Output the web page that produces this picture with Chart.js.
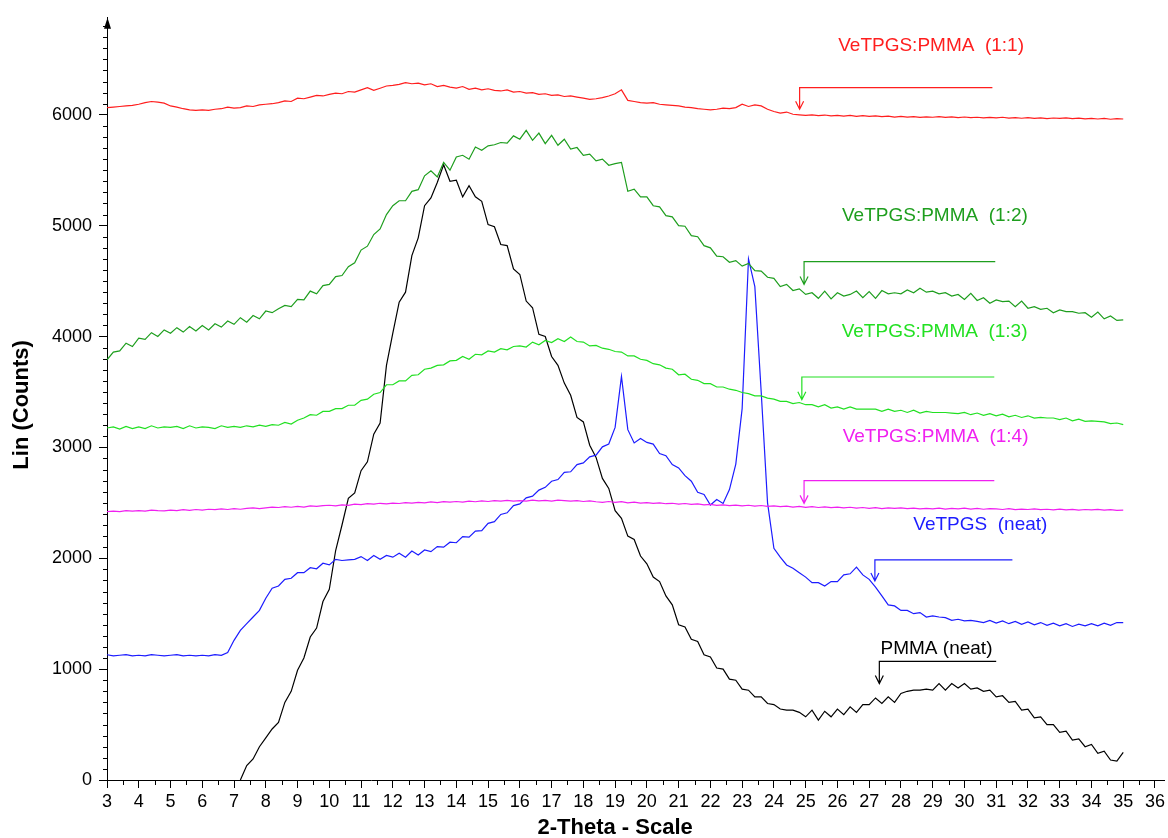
<!DOCTYPE html>
<html>
<head>
<meta charset="utf-8">
<title>XRD patterns</title>
<script src="https://cdn.jsdelivr.net/npm/chart.js@4.4.1/dist/chart.umd.min.js"></script>
<style>
  html, body { margin: 0; padding: 0; background: #fff; }
  #xrd { display: block; }
</style>
</head>
<body>
<canvas id="xrd" width="1168" height="838"></canvas>
<script>
const FONT = "'Liberation Sans', Arial, Helvetica, sans-serif";

// scan grid: 3 to 35 deg, 0.2 deg step
const scanStart = 3;
const scanStep = 0.2;

const xTicks = [3, 4, 5, 6, 7, 8, 9, 10, 11, 12, 13, 14, 15, 16, 17, 18, 19, 20,
  21, 22, 23, 24, 25, 26, 27, 28, 29, 30, 31, 32, 33, 34, 35, 36];
const yTicks = [0, 1000, 2000, 3000, 4000, 5000, 6000];

const ratio11 = [
  6065, 6070, 6075, 6080, 6085, 6095, 6110, 6120, 6115, 6105,
  6080, 6070, 6055, 6045, 6040, 6045, 6040, 6050, 6055, 6070,
  6060, 6065, 6080, 6075, 6090, 6095, 6100, 6110, 6125, 6120,
  6150, 6145, 6160, 6175, 6170, 6185, 6195, 6190, 6210, 6205,
  6225, 6245, 6220, 6240, 6260, 6265, 6275, 6290, 6280, 6285,
  6270, 6280, 6255, 6265, 6250, 6240, 6255, 6230, 6240, 6225,
  6235, 6220, 6215, 6225, 6205, 6210, 6195, 6200, 6185, 6190,
  6175, 6180, 6165, 6170, 6160, 6150, 6140, 6145, 6155, 6170,
  6190, 6225, 6130, 6120, 6110, 6105, 6110, 6095, 6090, 6085,
  6080, 6070, 6065, 6055, 6050, 6045, 6050, 6060, 6055, 6065,
  6095, 6075, 6090, 6080, 6050, 6030, 6015, 6025, 6005, 6000,
  5995, 6000, 5992, 5998, 5990, 5995, 5988, 5994, 5986, 5992,
  5985, 5990, 5983, 5988, 5980, 5986, 5980, 5984, 5977, 5982,
  5978, 5984, 5976, 5981, 5975, 5980, 5974, 5978, 5972, 5977,
  5973, 5978, 5970, 5975, 5969, 5974, 5968, 5973, 5966, 5971,
  5967, 5972, 5965, 5970, 5963, 5968, 5962, 5967, 5960, 5966,
  5962
];

const ratio12 = [
  3790, 3860, 3870, 3940, 3910, 3985, 3975, 4035, 4000, 4060,
  4030, 4080, 4040, 4090, 4050, 4100, 4060, 4115, 4085, 4140,
  4110, 4170, 4130, 4190, 4160, 4230, 4215, 4250, 4280, 4270,
  4335, 4330, 4410, 4385, 4460, 4470, 4540, 4550, 4630, 4665,
  4780, 4815, 4920, 4970, 5100, 5180, 5225, 5225, 5310, 5325,
  5450, 5495, 5440, 5570, 5500, 5620, 5635, 5600, 5710, 5680,
  5720, 5730, 5750, 5745, 5810, 5780, 5860, 5770, 5835, 5740,
  5815, 5725, 5780, 5690, 5705, 5635, 5645, 5585, 5600, 5545,
  5560, 5570, 5310, 5330, 5260, 5260, 5180, 5170, 5090, 5080,
  5000, 4995, 4910, 4900, 4820, 4800, 4725, 4720, 4670, 4685,
  4635, 4660, 4595, 4590, 4535, 4525, 4450, 4470, 4415, 4430,
  4380, 4395, 4345, 4410, 4340, 4395, 4365, 4380, 4410, 4350,
  4405, 4345, 4415, 4385, 4395, 4385, 4420, 4395, 4435, 4400,
  4410, 4385, 4395, 4365, 4380, 4335, 4390, 4325, 4350, 4300,
  4330, 4315, 4320, 4270, 4320, 4255, 4270, 4245, 4255, 4215,
  4240, 4225, 4225, 4210, 4215, 4175, 4220, 4160, 4185, 4145,
  4150
];

const ratio13 = [
  3175, 3185, 3165, 3190, 3170, 3185, 3170, 3195, 3175, 3185,
  3180, 3190, 3170, 3195, 3175, 3185, 3180, 3170, 3195, 3180,
  3190, 3180, 3195, 3185, 3200, 3190, 3205, 3200, 3225, 3210,
  3245, 3265, 3295, 3290, 3325, 3325, 3350, 3350, 3380, 3380,
  3425, 3435, 3480, 3495, 3565, 3565, 3600, 3600, 3650, 3655,
  3705, 3715, 3740, 3745, 3780, 3785, 3820, 3795, 3840, 3835,
  3870, 3860, 3890, 3880, 3910, 3915, 3905, 3950, 3925, 3965,
  3945, 3980, 3955, 3995, 3955, 3950, 3915, 3920, 3895, 3885,
  3865, 3860, 3825, 3825, 3795, 3785, 3755, 3745, 3715, 3705,
  3655, 3660, 3615, 3605, 3575, 3575, 3545, 3545, 3525, 3515,
  3495, 3485, 3465, 3465, 3445, 3435, 3415, 3415, 3395, 3405,
  3385, 3385, 3365, 3385, 3355, 3365, 3345, 3365, 3345, 3345,
  3345, 3345, 3325, 3345, 3325, 3335, 3315, 3335, 3310, 3325,
  3315, 3315, 3315, 3310, 3305, 3315, 3295, 3310, 3290, 3305,
  3285, 3300, 3275, 3290, 3270, 3285, 3265, 3270, 3265, 3265,
  3250, 3265, 3240, 3255, 3235, 3240, 3235, 3230, 3215, 3220,
  3205
];

const ratio14 = [
  2420, 2425, 2420, 2430, 2425, 2430, 2425, 2435, 2430, 2428,
  2435, 2430, 2438, 2432, 2440, 2435, 2442, 2438, 2445, 2440,
  2448, 2442, 2450, 2455, 2448, 2455, 2462, 2458, 2465, 2460,
  2468, 2462, 2472, 2468, 2475, 2478, 2472, 2482, 2478, 2488,
  2484, 2492, 2488, 2496, 2490, 2498, 2494, 2502, 2498, 2505,
  2500, 2508, 2502, 2510, 2506, 2512, 2506, 2515, 2510, 2518,
  2512, 2520, 2515, 2522, 2516, 2520, 2515, 2525, 2518, 2522,
  2516, 2525, 2520, 2515, 2520, 2512, 2518, 2510, 2505, 2512,
  2505, 2510, 2500, 2506, 2498, 2502, 2495, 2500, 2492, 2496,
  2488, 2494, 2486, 2490, 2482, 2486, 2478, 2482, 2475, 2480,
  2472, 2478, 2470, 2476, 2468, 2472, 2465, 2470, 2462, 2468,
  2460, 2466, 2458, 2464, 2456, 2462, 2455, 2460, 2452, 2458,
  2450, 2456, 2448, 2455, 2450, 2454, 2447, 2452, 2445, 2450,
  2446, 2452, 2444, 2450, 2446, 2452, 2444, 2450, 2442, 2448,
  2445, 2440, 2447, 2438, 2444, 2440, 2446, 2438, 2442, 2436,
  2443, 2437, 2441, 2435, 2440, 2436, 2441, 2434, 2438, 2432,
  2435
];

const vetpgsNeat = [
  1130, 1120, 1125, 1130, 1120, 1125, 1120, 1130, 1125, 1120,
  1125, 1130, 1120, 1125, 1120, 1125, 1120, 1130, 1125, 1150,
  1260, 1350, 1410, 1470, 1530, 1640, 1730, 1750, 1810, 1820,
  1870, 1870, 1915, 1905, 1955, 1940, 1990, 1980, 1985, 1990,
  2015, 1980, 2025, 1990, 2025, 2010, 2045, 2010, 2065, 2030,
  2075, 2060, 2105, 2100, 2145, 2140, 2195, 2190, 2245, 2250,
  2315, 2330, 2395, 2410, 2475, 2490, 2545, 2560, 2615, 2640,
  2695, 2710, 2775, 2780, 2845, 2860, 2915, 2930, 3005, 3030,
  3180, 3640, 3160, 3040, 3080, 3045, 3030, 2945, 2925, 2845,
  2815, 2745, 2695, 2595, 2575, 2480, 2530, 2495, 2620, 2850,
  3350, 4700, 4450, 3500, 2500, 2090, 2010, 1940, 1910, 1870,
  1830, 1780, 1780, 1750, 1790, 1790, 1850, 1860, 1920, 1850,
  1810, 1740, 1660, 1580, 1570, 1530, 1530, 1500, 1510, 1470,
  1480, 1470, 1465, 1440, 1450, 1435, 1440, 1430, 1420, 1440,
  1415, 1435, 1410, 1430, 1405, 1425, 1400, 1420, 1395, 1415,
  1390, 1410, 1385, 1405, 1390, 1410, 1390, 1415, 1395, 1420,
  1420
];

const pmmaNeat = [
  null, null, null, null, null, null, null, null, null, null,
  null, null, null, null, null, null, null, null, null, null,
  null, 0, 130, 190, 300, 380, 460, 520, 700, 800,
  990, 1100, 1290, 1370, 1610, 1720, 2070, 2300, 2540, 2590,
  2790, 2870, 3120, 3220, 3740, 4030, 4310, 4400, 4730, 4890,
  5180, 5250, 5390, 5550, 5400, 5410, 5260, 5360, 5260, 5220,
  5010, 4990, 4830, 4820, 4610, 4560, 4320, 4260, 4020, 4000,
  3820, 3740, 3580, 3470, 3270, 3230, 3020, 2910, 2720, 2630,
  2430, 2360, 2200, 2170, 2020, 1950, 1830, 1790, 1660, 1580,
  1400, 1380, 1270, 1250, 1130, 1110, 1010, 1000, 910, 900,
  820, 810, 750, 750, 690, 680, 640, 630, 630, 610,
  570, 630, 540, 620, 570, 640, 590, 660, 610, 680,
  680, 740, 690, 750, 700, 780, 800, 810, 810, 820,
  810, 870, 810, 870, 830, 870, 820, 830, 800, 810,
  750, 760, 700, 710, 630, 640, 560, 570, 500, 500,
  430, 440, 360, 370, 300, 320, 240, 260, 180, 170,
  250
];

const seriesNames = ['VeTPGS:PMMA  (1:1)', 'VeTPGS:PMMA  (1:2)', 'VeTPGS:PMMA  (1:3)',
  'VeTPGS:PMMA  (1:4)', 'VeTPGS  (neat)', 'PMMA (neat)'];
const seriesColors = ['#ff1e1e', '#1e9e1e', '#22e022', '#f020f0', '#1c1cff', '#000000'];
const seriesValues = [ratio11, ratio12, ratio13, ratio14, vetpgsNeat, pmmaNeat];

// label position and the bent arrow under it, in data units
const tagX = [28.95, 29.07, 29.06, 29.09, 30.5, 29.12];
const tagY = [6620, 5085, 4045, 3095, 2305, 1185];
const arrowX = [24.81, 24.95, 24.88, 24.95, 27.18, 27.32];
const arrowEndX = [30.88, 30.97, 30.94, 30.94, 31.51, 31.0];
const arrowLineY = [6245, 4675, 3635, 2700, 1985, 1070];
const arrowTipY = [6050, 4470, 3430, 2495, 1795, 870];

function toPoints(values) {
  return values.map((v, i) => ({ x: +(scanStart + i * scanStep).toFixed(1), y: v }));
}

const decorPlugin = {
  id: 'decor',
  afterDraw(chart) {
    const { ctx, chartArea: area, scales: { x, y } } = chart;
    ctx.save();
    ctx.strokeStyle = '#000';
    ctx.lineWidth = 1;

    // minor ticks
    ctx.beginPath();
    for (let v = 100; v <= 6800; v += 100) {
      if (v % 1000 === 0) continue;
      const py = Math.round(y.getPixelForValue(v)) + 0.5;
      ctx.moveTo(area.left - 4, py);
      ctx.lineTo(area.left, py);
    }
    for (let v = 3.5; v < 36.3; v += 1) {
      const px = Math.round(x.getPixelForValue(v)) + 0.5;
      ctx.moveTo(px, area.bottom);
      ctx.lineTo(px, area.bottom + 5);
    }
    ctx.stroke();

    // arrow head on the y axis
    const ax = Math.round(area.left) + 0.5;
    ctx.fillStyle = '#000';
    ctx.beginPath();
    ctx.moveTo(ax, area.top);
    ctx.lineTo(ax - 3.5, area.top + 11);
    ctx.lineTo(ax + 3.5, area.top + 11);
    ctx.closePath();
    ctx.fill();

    // series tags with bent arrows
    ctx.font = '19px ' + FONT;
    ctx.textAlign = 'center';
    ctx.textBaseline = 'middle';
    seriesNames.forEach((name, i) => {
      const color = seriesColors[i];
      ctx.fillStyle = color;
      ctx.strokeStyle = color;
      ctx.lineWidth = 1.2;
      ctx.fillText(name, x.getPixelForValue(tagX[i]), y.getPixelForValue(tagY[i]));

      const x1 = x.getPixelForValue(arrowX[i]);
      const x2 = x.getPixelForValue(arrowEndX[i]);
      const ly = y.getPixelForValue(arrowLineY[i]);
      const ty = y.getPixelForValue(arrowTipY[i]);
      ctx.beginPath();
      ctx.moveTo(x2, ly);
      ctx.lineTo(x1, ly);
      ctx.lineTo(x1, ty);
      ctx.moveTo(x1 - 4, ty - 8);
      ctx.lineTo(x1, ty);
      ctx.lineTo(x1 + 4, ty - 8);
      ctx.stroke();
    });

    // axis titles
    ctx.fillStyle = '#000';
    ctx.font = 'bold 22px ' + FONT;
    ctx.fillText('2-Theta - Scale', x.getPixelForValue(19), 828);
    ctx.translate(22, (area.top + area.bottom) / 2 + 6);
    ctx.rotate(-Math.PI / 2);
    ctx.fillText('Lin (Counts)', 0, 0);
    ctx.restore();
  }
};

function buildChart() {
  const canvas = document.getElementById('xrd');

  const datasets = seriesValues.map((values, i) => ({
    label: seriesNames[i],
    data: toPoints(values),
    borderColor: seriesColors[i],
    borderWidth: 1.2,
    pointRadius: 0,
    tension: 0,
    spanGaps: false
  }));

  return new Chart(canvas, {
    type: 'line',
    data: { datasets },
    options: {
      responsive: false,
      animation: false,
      devicePixelRatio: 1,
      layout: { padding: { top: 15, right: 0, left: 0, bottom: 0 } },
      plugins: { legend: { display: false }, tooltip: { enabled: false } },
      scales: {
        x: {
          type: 'linear',
          min: 3,
          max: 36.31,
          afterBuildTicks: s => { s.ticks = xTicks.map(v => ({ value: v })); },
          afterFit: s => { s.height = 58; },
          grid: { drawOnChartArea: false, drawTicks: true, tickLength: 8, color: '#000' },
          border: { display: true, color: '#000', width: 1 },
          ticks: {
            autoSkip: false,
            maxRotation: 0,
            padding: 3,
            color: '#000',
            font: { family: FONT, size: 18 },
            callback: v => String(v)
          }
        },
        y: {
          min: 0,
          max: 6875,
          afterBuildTicks: s => { s.ticks = yTicks.map(v => ({ value: v })); },
          afterFit: s => { s.width = 107; },
          grid: { drawOnChartArea: false, drawTicks: true, tickLength: 8, color: '#000' },
          border: { display: true, color: '#000', width: 1 },
          ticks: {
            padding: 7,
            color: '#000',
            font: { family: FONT, size: 18 },
            callback: v => String(v)
          }
        }
      }
    },
    plugins: [decorPlugin]
  });
}

document.addEventListener('DOMContentLoaded', () => {
  buildChart();
});
</script>
</body>
</html>
